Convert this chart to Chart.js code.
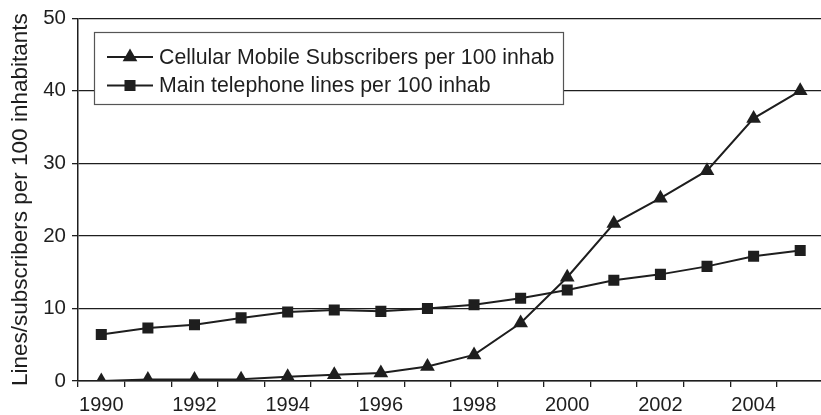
<!DOCTYPE html>
<html><head><meta charset="utf-8">
<script src="https://cdn.jsdelivr.net/npm/chart.js@4"></script>
<style>
html,body{margin:0;padding:0;overflow:hidden;background:#fff;width:821px;height:415px}
#wrap{position:relative;width:832px;height:415px}
</style></head>
<body><div id="wrap"><canvas id="c"></canvas></div>
<script>
const years = ['1990','1991','1992','1993','1994','1995','1996','1997','1998','1999','2000','2001','2002','2003','2004','2005'];
const cellular = [0, 0.2, 0.2, 0.25, 0.6, 0.85, 1.1, 2.0, 3.6, 8.0, 14.3, 21.7, 25.2, 29.0, 36.2, 40.0];
const mainLines = [6.4, 7.3, 7.75, 8.7, 9.5, 9.8, 9.6, 10.0, 10.5, 11.4, 12.55, 13.9, 14.7, 15.8, 17.2, 18.0];
const yTicks = [0, 10, 20, 30, 40, 50];
const seriesLabels = ['Cellular Mobile Subscribers per 100 inhab', 'Main telephone lines per 100 inhab'];
const yTitle = 'Lines/subscribers per 100 inhabitants';

const FONT = '"Liberation Sans", Arial, Helvetica, sans-serif';
const INK = '#1e1e1e';

function drawMarker(ctx, style, x, y, r) {
  ctx.beginPath();
  if (style === 'triangle') {
    for (let k = 0; k < 3; k++) {
      const a = k * 2 * Math.PI / 3;
      const px = x + Math.sin(a) * r, py = y - Math.cos(a) * r;
      if (k === 0) ctx.moveTo(px, py); else ctx.lineTo(px, py);
    }
    ctx.closePath();
  } else {
    const s = Math.SQRT1_2 * r;
    ctx.rect(x - s, y - s, 2 * s, 2 * s);
  }
  ctx.fill();
}

const boxLegend = {
  id: 'boxLegend',
  afterDraw(chart) {
    const ctx = chart.ctx;
    const x0 = 94, y0 = 32, w = 469, h = 72;
    ctx.save();
    ctx.fillStyle = '#fff';
    ctx.fillRect(x0, y0, w, h);
    ctx.strokeStyle = '#555';
    ctx.lineWidth = 1.2;
    ctx.strokeRect(x0 + 0.5, y0 + 0.5, w, h);
    chart.data.datasets.forEach((ds, i) => {
      const cy = 57 + i * 28.5;
      ctx.strokeStyle = ds.borderColor;
      ctx.lineWidth = ds.borderWidth;
      ctx.beginPath(); ctx.moveTo(107, cy); ctx.lineTo(153, cy); ctx.stroke();
      ctx.fillStyle = ds.pointBackgroundColor;
      drawMarker(ctx, ds.pointStyle, 130, cy, ds.pointRadius);
      ctx.fillStyle = INK;
      ctx.font = '21.3px ' + FONT;
      ctx.textBaseline = 'middle';
      ctx.textAlign = 'left';
      ctx.fillText(ds.label, 159, cy + 1);
    });
    ctx.restore();
  }
};

new Chart(document.getElementById('c'), {
  type: 'line',
  data: {
    labels: years,
    datasets: [
      { label: seriesLabels[0], data: cellular, borderColor: INK, borderWidth: 2,
        pointStyle: 'triangle', pointRadius: 8.5, pointBackgroundColor: INK, pointBorderWidth: 0, tension: 0 },
      { label: seriesLabels[1], data: mainLines, borderColor: INK, borderWidth: 2,
        pointStyle: 'rect', pointRadius: 7.8, pointBackgroundColor: INK, pointBorderWidth: 0, tension: 0 }
    ]
  },
  options: {
    responsive: true, maintainAspectRatio: false, animation: false,
    layout: { padding: { top: 16, left: 0, right: 0, bottom: 0 } },
    plugins: { legend: { display: false }, tooltip: { enabled: false } },
    scales: {
      x: {
        type: 'category', offset: true,
        grid: { offset: true, drawOnChartArea: false, drawTicks: true, tickLength: 6, color: INK, lineWidth: 1.3 },
        border: { display: true, color: INK, width: 1.5 },
        ticks: { autoSkip: false, maxRotation: 0, padding: 6, color: INK, font: { family: FONT, size: 20 },
          callback: function(v, i) { return (+years[i]) % 2 === 0 ? years[i] : ''; } },
        afterFit: s => { s.height = 34; }
      },
      y: {
        min: 0, max: 50,
        afterBuildTicks: s => { s.ticks = yTicks.map(v => ({ value: v })); },
        grid: { color: INK, lineWidth: 1.3, tickLength: 6, drawTicks: true },
        border: { display: true, color: INK, width: 1.5 },
        ticks: { padding: 6, color: INK, font: { family: FONT, size: 20.5 } },
        title: { display: true, text: yTitle, color: INK, font: { family: FONT, size: 22.5 }, padding: { top: 7, bottom: 0 } },
        afterFit: s => { s.width = 78; }
      }
    }
  },
  plugins: [boxLegend]
});
</script>
</body></html>
